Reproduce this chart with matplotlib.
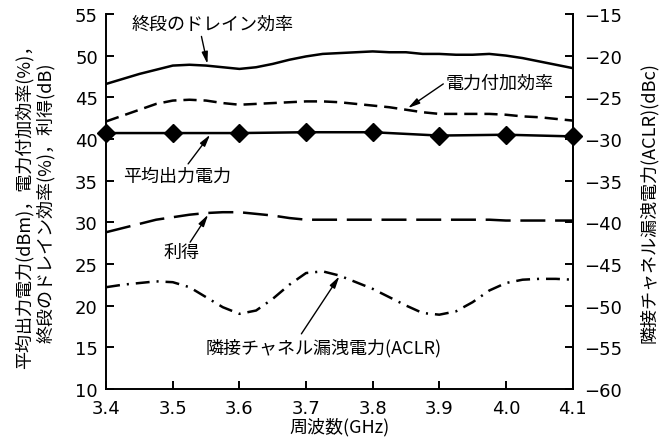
import matplotlib
matplotlib.use("Agg")
import matplotlib.pyplot as plt

plt.rcParams['font.family'] = ['Noto Sans CJK JP', 'DejaVu Sans']
plt.rcParams['lines.scale_dashes'] = False

freq = [3.400, 3.425, 3.450, 3.475, 3.500, 3.525, 3.550, 3.575,
        3.600, 3.625, 3.650, 3.675, 3.700, 3.725, 3.750, 3.775,
        3.800, 3.825, 3.850, 3.875, 3.900, 3.925, 3.950, 3.975,
        4.000, 4.025, 4.050, 4.075, 4.100]

# 終段のドレイン効率 (%)
drain_eff = [46.6, 47.2, 47.8, 48.3, 48.8, 48.9, 48.8, 48.6,
             48.4, 48.6, 49.0, 49.5, 49.9, 50.2, 50.3, 50.4,
             50.5, 50.4, 50.4, 50.2, 50.2, 50.1, 50.1, 50.2,
             50.0, 49.7, 49.3, 48.9, 48.5]
# 電力付加効率 (%)
pae = [42.1, 42.8, 43.5, 44.2, 44.6, 44.7, 44.6, 44.3,
       44.1, 44.2, 44.3, 44.4, 44.5, 44.5, 44.4, 44.2,
       44.0, 43.8, 43.5, 43.2, 43.0, 43.0, 43.0, 43.0,
       42.9, 42.7, 42.6, 42.4, 42.2]
# 利得 (dB)
gain = [28.8, 29.3, 29.8, 30.3, 30.6, 30.9, 31.1, 31.2,
        31.2, 31.0, 30.8, 30.5, 30.3, 30.3, 30.3, 30.3,
        30.3, 30.3, 30.3, 30.3, 30.3, 30.3, 30.3, 30.3,
        30.2, 30.2, 30.2, 30.2, 30.2]
# 隣接チャネル漏洩電力 ACLR (dBc)
aclr = [-47.8, -47.5, -47.3, -47.1, -47.2, -47.8, -49.0, -50.2,
        -51.0, -50.6, -49.2, -47.5, -46.1, -45.9, -46.4, -47.2,
        -48.0, -49.0, -50.0, -50.9, -51.1, -50.7, -49.6, -48.2,
        -47.3, -46.9, -46.8, -46.8, -46.9]

# 平均出力電力 (dBm), measured at 0.1 GHz steps
freq_pts = [3.4, 3.5, 3.6, 3.7, 3.8, 3.9, 4.0, 4.1]
avg_power = [40.7, 40.7, 40.7, 40.8, 40.8, 40.4, 40.5, 40.3]

xticks = [3.4, 3.5, 3.6, 3.7, 3.8, 3.9, 4.0, 4.1]
xticklabels = ['3.4', '3.5', '3.6', '3.7', '3.8', '3.9', '4.0', '4.1']
left_ticks = [10, 15, 20, 25, 30, 35, 40, 45, 50, 55]
right_ticks = [-60, -55, -50, -45, -40, -35, -30, -25, -20, -15]

tick_font = ['DejaVu Sans']
fs = 13

fig = plt.figure(figsize=(6.72, 4.39), dpi=100)
ax = fig.add_axes([0.158, 0.112, 0.694, 0.854])
ax2 = ax.twinx()

lw = 1.8
ax.plot(freq, drain_eff, color='black', lw=lw)
ax.plot(freq, pae, color='black', lw=lw, dashes=(9.5, 5))
ax.plot(freq, gain, color='black', lw=lw, dashes=(18, 7))
ax.plot(freq_pts, avg_power, color='black', lw=lw, marker='D',
        markersize=9, clip_on=False, zorder=5)
ax2.plot(freq, aclr, color='black', lw=lw, dashes=(10, 5, 1.5, 5))

ax.set_xlim(3.4, 4.1)
ax.set_ylim(10, 55)
ax2.set_ylim(-60, -15)

ax.set_xticks(xticks)
ax.set_xticklabels(xticklabels, family=tick_font, fontsize=fs)
ax.set_yticks(left_ticks)
ax.set_yticklabels([str(v) for v in left_ticks], family=tick_font, fontsize=fs)
ax2.set_yticks(right_ticks)
ax2.set_yticklabels(['\u2212' + str(-v) for v in right_ticks],
                    family=tick_font, fontsize=fs)

for a in (ax, ax2):
    a.spines['top'].set_visible(False)
    for s in a.spines.values():
        s.set_linewidth(1.4)
ax2.spines['left'].set_visible(False)
ax2.spines['bottom'].set_visible(False)

ax.tick_params(axis='both', direction='in', length=6, width=1.4)
ax.tick_params(axis='y', pad=6)
ax.tick_params(axis='x', pad=7)
ax2.tick_params(axis='y', direction='in', length=6, width=1.4, pad=8)

ax.set_xlabel('周波数(GHz)', fontsize=13, labelpad=0)
ax.set_ylabel('平均出力電力(dBm)，電力付加効率(%)，\n終段のドレイン効率(%)，利得(dB)',
              fontsize=13, linespacing=1.2)
ax.yaxis.set_label_coords(-0.11, 0.5)
ax2.set_ylabel('隣接チャネル漏洩電力(ACLR)(dBc)', fontsize=13)
ax2.yaxis.set_label_coords(1.143, 0.5)

arrow = dict(arrowstyle='-|>,head_length=0.7,head_width=0.18', color='black',
             lw=1.0, shrinkA=0, shrinkB=0)

labels = ['終段のドレイン効率', '電力付加効率', '平均出力電力', '利得',
          '隣接チャネル漏洩電力(ACLR)']
label_xy = [(3.56, 53.8), (3.99, 46.8), (3.506, 35.6), (3.513, 26.4),
            (3.727, 15.0)]
arrow_tail = [(3.543, 52.3), (3.906, 46.6), (3.523, 37.0), (3.526, 27.6),
              (3.693, 16.6)]
arrow_tip = [(3.552, 49.0), (3.853, 43.7), (3.556, 40.5), (3.553, 30.9),
             (3.75, 23.5)]

for txt, pos, tail, tip in zip(labels, label_xy, arrow_tail, arrow_tip):
    ax.text(pos[0], pos[1], txt, fontsize=13, ha='center', va='center')
    ax.annotate('', xy=tip, xytext=tail, arrowprops=arrow)

fig.savefig('out.png', dpi=100)
